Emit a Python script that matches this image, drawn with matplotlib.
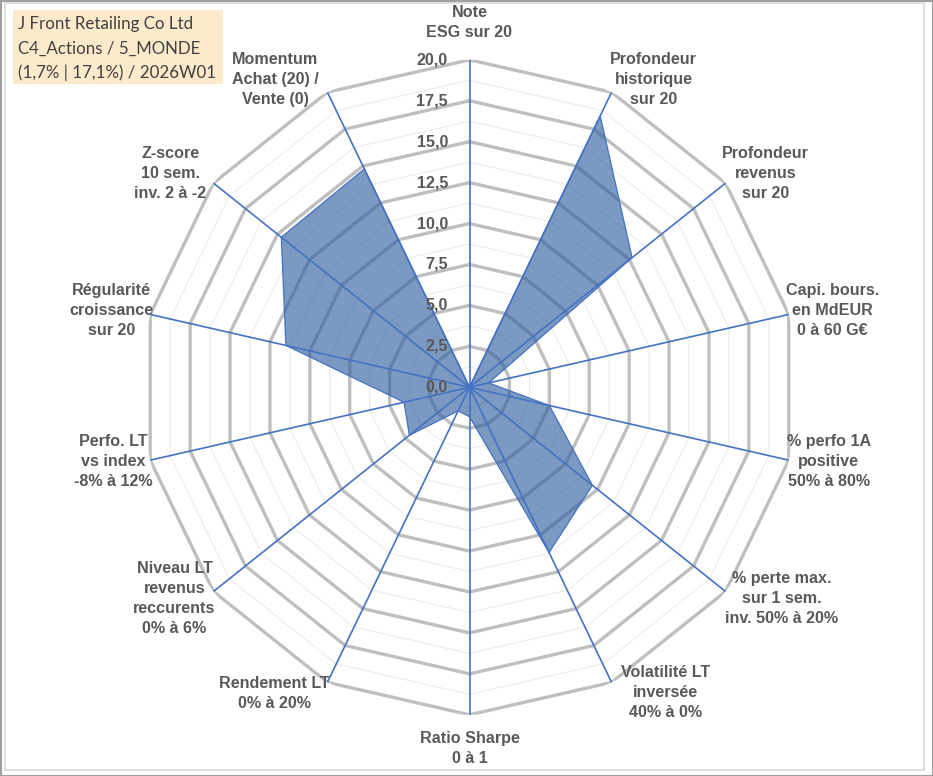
import numpy as np
import matplotlib
matplotlib.use("Agg")
import matplotlib.pyplot as plt
from matplotlib.patches import Rectangle

# axis labels, clockwise from the top
labels = [
    "Note\nESG sur 20",
    "Profondeur\nhistorique\nsur 20",
    "Profondeur\nrevenus\nsur 20",
    "Capi. bours.\nen MdEUR\n0 à 60 G€",
    "% perfo 1A\npositive\n50% à 80%",
    "% perte max.\nsur 1 sem.\ninv. 50% à 20%",
    "Volatilité LT\ninversée\n40% à 0%",
    "Ratio Sharpe\n0 à 1",
    "Rendement LT\n0% à 20%",
    "Niveau LT\nrevenus\nreccurents\n0% à 6%",
    "Perfo. LT\nvs index\n-8% à 12%",
    "Régularité\ncroissance\nsur 20",
    "Z-score\n10 sem.\ninv. 2 à -2",
    "Momentum\nAchat (20) /\nVente (0)",
]
scores = [0.0, 18.4, 12.7, 1.2, 5.0, 9.6, 11.2, 1.8, 1.6, 4.7, 4.1, 11.5, 14.7, 14.8]
major_levels = [2.5, 5.0, 7.5, 10.0, 12.5, 15.0, 17.5, 20.0]
tick_labels = ["0,0", "2,5", "5,0", "7,5", "10,0", "12,5", "15,0", "17,5", "20,0"]
title_lines = ["J Front Retailing Co Ltd", "C4_Actions / 5_MONDE", "(1,7% | 17,1%) / 2026W01"]

# label offsets from the spoke ends, in pixels (right, up)
label_offsets = [(0, 37), (42, 13), (40, 10), (44, 4), (40, -1), (56, -7), (54, -10),
                 (0, -34), (-53, -11), (-39, -7), (-37, -1), (-39, 4), (-43, 10), (-52, 13)]

W, H = 933, 776
fig = plt.figure(figsize=(W / 100, H / 100), dpi=100)
fig.patch.set_facecolor("white")

cx, cy, R = 469.5, 387.3, 327.5
ax = fig.add_axes([(cx - R) / W, (H - cy - R) / H, 2 * R / W, 2 * R / H], polar=True)
ax.set_theta_zero_location("N")
ax.set_theta_direction(-1)
ax.set_ylim(0, 20)
ax.grid(False)
ax.set_xticks([])
ax.set_yticks([])
ax.spines["polar"].set_visible(False)
ax.patch.set_alpha(0)

n = len(labels)
angles = np.arange(n) * 2 * np.pi / n
closed = np.append(angles, angles[0])

# rings
minor_levels = [lv - 1.25 for lv in major_levels]
for lv in minor_levels:
    ax.plot(closed, [lv] * (n + 1), color="#EBEBEB", lw=0.8, zorder=1)
for lv in major_levels:
    ax.plot(closed, [lv] * (n + 1), color="#BFBFBF", lw=2.4, zorder=2,
            solid_joinstyle="miter")

# data polygon
vals = np.append(scores, scores[0])
ax.fill(closed, vals, facecolor="#2E5E9E", alpha=0.63, zorder=3, lw=0)
ax.plot(closed, vals, color="#4472C4", lw=0.9, zorder=4)

# spokes
for a in angles:
    ax.plot([a, a], [0, 20], color="#4472C4", lw=1.2, zorder=5)

# value ticks next to the top spoke
for i, t in enumerate(tick_labels):
    ax.annotate(t, xy=(0, i * 2.5), xytext=(-15.5, 0), textcoords="offset points",
                ha="right", va="center", fontsize=11.6, fontweight="bold",
                family="Liberation Sans", color="#595959", zorder=6,
                annotation_clip=False)

for a, lab, (dx, dy) in zip(angles, labels, label_offsets):
    ax.annotate(lab, xy=(a, 20), xytext=(dx * 0.72, dy * 0.72), textcoords="offset points",
                ha="center", va="center", multialignment="center", fontsize=11.6,
                fontweight="bold", family="Liberation Sans", color="#595959",
                linespacing=1.42, annotation_clip=False)

# title box
fig.patches.append(Rectangle((13 / W, 1 - 84 / H), 210 / W, 74 / H, transform=fig.transFigure,
                             facecolor="#FDEACB", edgecolor="none", zorder=0))
for k, line in enumerate(title_lines):
    fig.text(18 / W, 1 - (24 + 24.3 * k) / H, line, ha="left", va="center",
             fontsize=12.2, family="Lato", color="#404040")

# chart borders
fig.patches.append(Rectangle((5 / W, 6 / H), 919 / W, 767 / H, transform=fig.transFigure,
                             facecolor="none", edgecolor="#D9D9D9", lw=1.2))
fig.patches.append(Rectangle((0.5 / W, 0.5 / H), 932 / W, 775 / H, transform=fig.transFigure,
                             facecolor="none", edgecolor="#9E9E9E", lw=1.5))

fig.savefig("out.png", dpi=100)
